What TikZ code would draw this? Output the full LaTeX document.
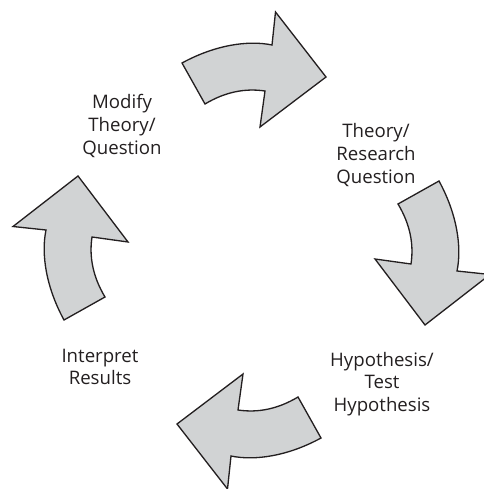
\documentclass[tikz,border=0pt]{standalone}
\usepackage{fontspec}
\setmainfont{Open Sans}
\usetikzlibrary{positioning}
\definecolor{ink}{HTML}{231F20}
\definecolor{arrowfill}{HTML}{D1D3D4}
\tikzset{
  font=\fontsize{10.6}{13}\selectfont,
  %
  bigarrow/.style={draw=ink, line width=0.75pt, fill=arrowfill, line join=miter},
  %
  lbl/.style={text=ink, align=center, inner sep=1pt},
}

\begin{document}
\begin{tikzpicture}[x=0.02cm, y=-0.02cm]

\useasboundingbox (0,0) rectangle (483,489);
\coordinate (ctr) at (251.5,250.5);

% ---------------------------------------------------------------- arrows
\foreach \ang in {0,-90,-180,-270} {
  \begin{scope}[rotate around={\ang:(ctr)}]
    \draw[bigarrow] (182,63) .. controls (215,45) and (248,40) .. (272,45)
      -- (275.5,12) -- (326,77) -- (260,127) -- (265,91)
      .. controls (245,88) and (225,92) .. (205,104) -- cycle;
  \end{scope}
}

% ---------------------------------------------------------------- labels
\node[lbl] (modify) at (122,126) {Modify\\Theory/\\Question};
\node[lbl] (theory) at (376,155) {Theory/\\Research\\Question};
\node[lbl] (hypo) at (382,384) {Hypothesis/\\Test\\Hypothesis};
\node[lbl] (interp) at (100,367) {Interpret\\Results};

\end{tikzpicture}
\end{document}
